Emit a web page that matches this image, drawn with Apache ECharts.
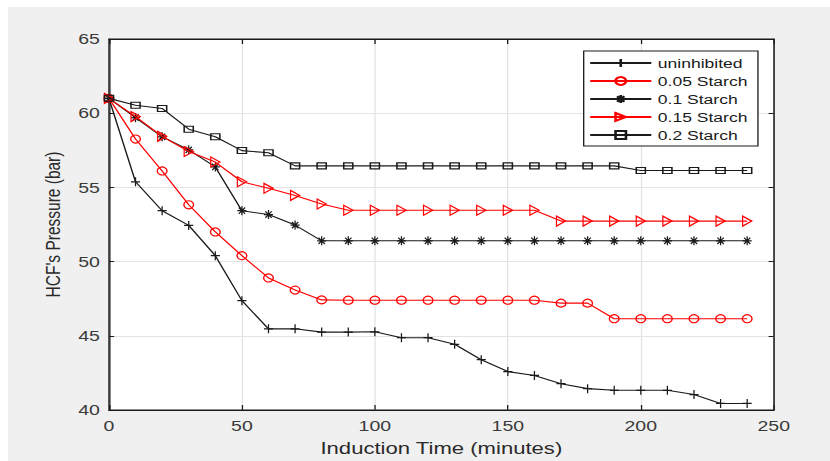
<!DOCTYPE html>
<html>
<head>
<meta charset="utf-8">
<script src="https://cdn.jsdelivr.net/npm/echarts@6/dist/echarts.min.js"></script>
<style>
  html, body { margin: 0; padding: 0; background: #ffffff; }
  #wrap { position: relative; width: 830px; height: 461px; overflow: hidden; }
  #bg { position: absolute; left: 8px; top: 7px; right: 0; bottom: 0; background: #f0f0f0; }
  /* the figure is laid out narrow and widened horizontally */
  #chart { position: absolute; left: 0; top: 0; width: 638.5px; height: 461px;
           transform: scaleX(1.3); transform-origin: 0 0; }
</style>
</head>
<body>
<div id="wrap"><div id="bg"></div><div id="chart"></div></div>
<script>
// Induction time in minutes
const times = [0, 10, 20, 30, 40, 50, 60, 70, 80, 90, 100, 110, 120, 130, 140, 150, 160, 170, 180, 190, 200, 210, 220, 230, 240];

// HCF pressure (bar) for each inhibitor dose
const uninhibited = [61, 55.38, 53.43, 52.44, 50.4, 47.37, 45.47, 45.47, 45.25, 45.25, 45.27, 44.87, 44.87, 44.43, 43.39, 42.59, 42.33, 41.77, 41.44, 41.33, 41.33, 41.33, 41.04, 40.44, 40.44];
const starch005 = [61, 58.26, 56.11, 53.83, 52.0, 50.4, 48.9, 48.08, 47.42, 47.4, 47.4, 47.4, 47.4, 47.4, 47.4, 47.4, 47.4, 47.2, 47.2, 46.15, 46.15, 46.15, 46.15, 46.15, 46.15];
const starch01 = [61, 59.7, 58.41, 57.53, 56.38, 53.43, 53.17, 52.46, 51.4, 51.4, 51.4, 51.4, 51.4, 51.4, 51.4, 51.4, 51.4, 51.4, 51.4, 51.4, 51.4, 51.4, 51.4, 51.4, 51.4];
const starch015 = [61, 59.77, 58.44, 57.42, 56.71, 55.38, 54.94, 54.46, 53.88, 53.46, 53.46, 53.46, 53.46, 53.46, 53.46, 53.46, 53.46, 52.73, 52.73, 52.73, 52.73, 52.73, 52.73, 52.73, 52.73];
const starch02 = [61, 60.54, 60.32, 58.92, 58.41, 57.48, 57.33, 56.45, 56.45, 56.45, 56.45, 56.45, 56.45, 56.45, 56.45, 56.45, 56.45, 56.45, 56.45, 56.45, 56.14, 56.14, 56.14, 56.14, 56.14];

const seriesNames = ['uninhibited', '0.05 Starch', '0.1 Starch', '0.15 Starch', '0.2 Starch'];
const seriesValues = [uninhibited, starch005, starch01, starch015, starch02];

const xTicks = { min: 0, max: 250, interval: 50 };
const yTicks = { min: 40, max: 65, interval: 5 };

const BLACK = '#1a1a1a';
const RED = '#ff0000';
const FONT = 'Arial, "Liberation Sans", Helvetica, sans-serif';

// Marker shapes: plus, circle, asterisk, right triangle, square
const markers = [
  { symbol: 'path://M0,4 L8,4 M4,0 L4,8', size: [7, 9], color: BLACK },
  { symbol: 'circle', size: [7.5, 8], color: RED },
  { symbol: 'path://M4,0 L4,8 M0,4 L8,4 M1.2,1.2 L6.8,6.8 M6.8,1.2 L1.2,6.8', size: [7, 9], color: BLACK },
  { symbol: 'path://M0,0 L8,4.5 L0,9 Z', size: [7, 10], color: RED },
  { symbol: 'rect', size: [7, 6], color: BLACK }
];

const series = seriesNames.map((name, i) => ({
  name: name,
  type: 'line',
  xAxisIndex: 0,
  yAxisIndex: 0,
  data: times.map((t, k) => [t, seriesValues[i][k]]),
  symbol: markers[i].symbol,
  symbolSize: markers[i].size,
  showAllSymbol: true,
  lineStyle: { color: markers[i].color, width: 1.1 },
  itemStyle: { color: 'none', borderColor: markers[i].color, borderWidth: 1.1 },
  emphasis: { disabled: true },
  animation: false,
  z: 2 + i
}));

const axisLineStyle = { color: BLACK, width: 1 };
const labelStyle = { color: '#3a3a3a', fontSize: 15, fontFamily: FONT };

const chart = echarts.init(document.getElementById('chart'), null, { renderer: 'svg' });
chart.setOption({
  backgroundColor: 'transparent',
  animation: false,
  grid: {
    left: 83.8, top: 39, right: 43.8, bottom: 46,
    show: true, backgroundColor: '#ffffff', borderColor: BLACK, borderWidth: 1
  },
  legend: {
    data: seriesNames,
    orient: 'vertical',
    left: 449, top: 51,
    backgroundColor: '#ffffff',
    borderColor: BLACK, borderWidth: 1,
    padding: [5, 8, 4, 4],
    itemWidth: 47, itemHeight: 10, itemGap: 4,
    textStyle: { color: '#1a1a1a', fontSize: 13.5, lineHeight: 14, fontFamily: FONT, padding: [0, 0, 0, 0] },
    selectedMode: false
  },
  xAxis: [
    {
      type: 'value', position: 'bottom',
      min: xTicks.min, max: xTicks.max, interval: xTicks.interval,
      name: 'Induction Time (minutes)', nameLocation: 'middle', nameGap: 29,
      nameTextStyle: { color: '#2a2a2a', fontSize: 17, fontFamily: FONT },
      axisLine: { show: true, onZero: false, lineStyle: axisLineStyle },
      axisTick: { show: true, inside: true, length: 5, lineStyle: axisLineStyle },
      axisLabel: Object.assign({ margin: 8 }, labelStyle),
      splitLine: { show: true, lineStyle: { color: '#e3e3e3', width: 1 } }
    },
    {
      type: 'value', position: 'top',
      min: xTicks.min, max: xTicks.max, interval: xTicks.interval,
      axisLine: { show: true, onZero: false, lineStyle: axisLineStyle },
      axisTick: { show: true, inside: true, length: 5, lineStyle: axisLineStyle },
      axisLabel: { show: false },
      splitLine: { show: false }
    }
  ],
  yAxis: [
    {
      type: 'value', position: 'left',
      min: yTicks.min, max: yTicks.max, interval: yTicks.interval,
      name: "HCF's Pressure (bar)", nameLocation: 'middle', nameGap: 30,
      nameTextStyle: { color: '#2a2a2a', fontSize: 15.5, fontFamily: FONT },
      axisLine: { show: true, onZero: false, lineStyle: axisLineStyle },
      axisTick: { show: true, inside: true, length: 4, lineStyle: axisLineStyle },
      axisLabel: Object.assign({ margin: 7 }, labelStyle),
      splitLine: { show: true, lineStyle: { color: '#e3e3e3', width: 1 } }
    },
    {
      type: 'value', position: 'right',
      min: yTicks.min, max: yTicks.max, interval: yTicks.interval,
      axisLine: { show: true, onZero: false, lineStyle: axisLineStyle },
      axisTick: { show: true, inside: true, length: 4, lineStyle: axisLineStyle },
      axisLabel: { show: false },
      splitLine: { show: false }
    }
  ],
  series: series
});
</script>
</body>
</html>
